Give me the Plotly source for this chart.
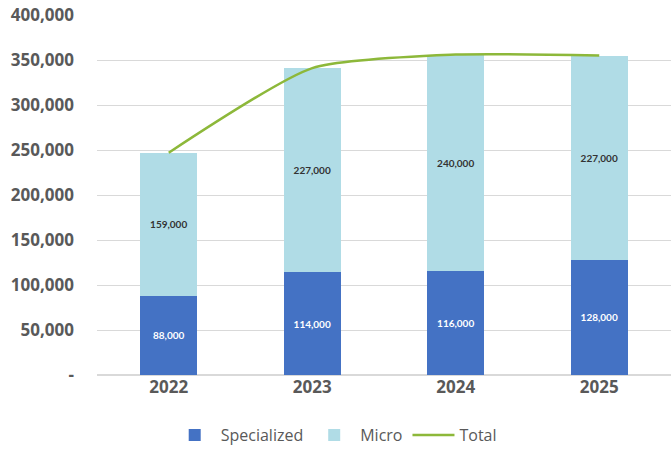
import plotly.graph_objects as go

years = ["2022", "2023", "2024", "2025"]
specialized = [88000, 114000, 116000, 128000]
micro = [159000, 227000, 240000, 227000]
total = [s + m for s, m in zip(specialized, micro)]

y_tickvals = [0, 50000, 100000, 150000, 200000, 250000, 300000, 350000, 400000]
y_ticktext = ["-", "50,000", "100,000", "150,000", "200,000", "250,000",
              "300,000", "350,000", "400,000"]

FONT = "'Open Sans', Lato, sans-serif"
LBL_FONT = "Lato, 'Open Sans', sans-serif"

fig = go.Figure()
fig.add_trace(go.Bar(
    x=years, y=specialized, name="Specialized",
    marker=dict(color="#4472C4", line=dict(width=0)),
    text=[f"<b>{v:,}</b>" for v in specialized], textposition="inside",
    insidetextanchor="middle",
    textfont=dict(color="white", size=10, family=LBL_FONT),
    width=0.4,
))
fig.add_trace(go.Bar(
    x=years, y=micro, name="Micro",
    marker=dict(color="#B0DCE6", line=dict(width=0)),
    text=[f"<b>{v:,}</b>" for v in micro], textposition="inside",
    insidetextanchor="middle",
    textfont=dict(color="#333333", size=10, family=LBL_FONT),
    width=0.4,
))
fig.add_trace(go.Scatter(
    x=years, y=total, name="Total", mode="lines",
    line=dict(color="#8DB83A", width=2.5, shape="spline", smoothing=0.6),
))

fig.update_layout(
    barmode="stack",
    width=671, height=452,
    margin=dict(l=97, r=0, t=15, b=76),
    paper_bgcolor="white", plot_bgcolor="white",
    font=dict(family=FONT, color="#595959"),
    showlegend=True,
    legend=dict(orientation="h", x=0.415, xanchor="center", y=-0.12,
                yanchor="top", font=dict(size=16, color="#595959", family=FONT),
                traceorder="normal", itemwidth=42),
    uniformtext=dict(minsize=8, mode="show"),
)
fig.update_xaxes(
    showgrid=False, showline=False, ticks="",
    tickfont=dict(size=17, color="#595959", family=FONT, weight="bold"),
    range=[-0.5, 3.5],
)
fig.update_yaxes(
    range=[0, 400000], tickvals=y_tickvals, ticktext=y_ticktext,
    showgrid=True, gridcolor="#D9D9D9", gridwidth=1,
    zeroline=True, zerolinecolor="#D9D9D9",
    tickfont=dict(size=17, color="#595959", family=FONT, weight="bold"),
    ticklabelstandoff=22,
)

fig.write_html("out.html")
